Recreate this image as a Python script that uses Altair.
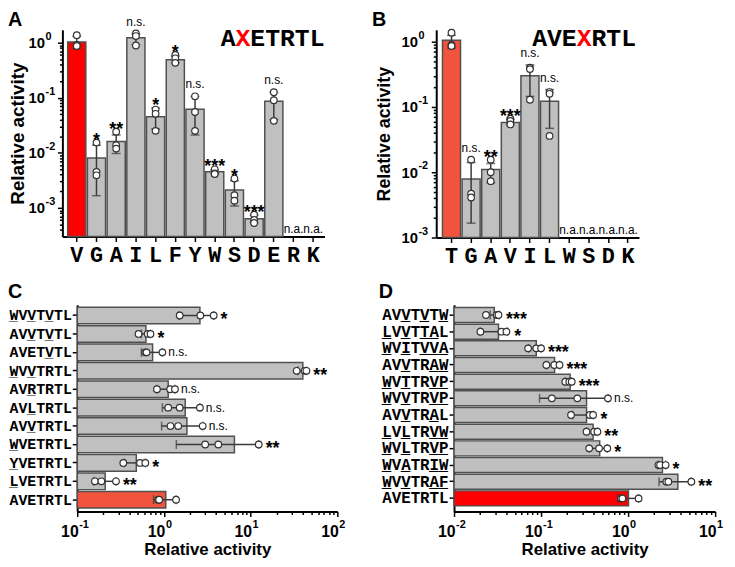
import math
import altair as alt
import pandas as pd

# ---------------- Panel A : AXETRTL (log y) ----------------
A_cats = ["V", "G", "A", "I", "L", "F", "Y", "W", "S", "D", "E", "R", "K"]
A_mean = [1.03, 0.0080, 0.016, 1.23, 0.045, 0.49, 0.062, 0.0045, 0.0021, 0.00063, 0.086, None, None]
A_lo = [0.78, 0.00166, 0.0097, 0.92, 0.027, 0.43, 0.021, 0.0042, 0.00108, 0.00054, 0.040, None, None]
A_hi = [1.30, 0.0137, 0.021, 1.45, 0.065, 0.57, 0.105, 0.0049, 0.0031, 0.00073, 0.125, None, None]
A_rep1 = [1.37, 0.0153, 0.0242, 1.47, 0.061, 0.60, 0.106, 0.0050, 0.0034, 0.00075, 0.126, None, None]
A_rep2 = [0.91, 0.0045, 0.0137, 1.32, 0.051, 0.52, 0.055, 0.0042, 0.0017, 0.00060, 0.090, None, None]
A_rep3 = [0.87, 0.0039, 0.0119, 0.89, 0.025, 0.43, 0.025, 0.0041, 0.00135, 0.00053, 0.038, None, None]
A_sig = ["", "*", "**", "n.s.", "*", "*", "n.s.", "***", "*", "***", "n.s.", "n.a.", "n.a."]

# ---------------- Panel B : AVEXRTL (log y) ----------------
B_cats = ["T", "G", "A", "V", "I", "L", "W", "S", "D", "K"]
B_mean = [1.05, 0.0079, 0.011, 0.058, 0.30, 0.122, None, None, None, None]
B_lo = [0.80, 0.00166, 0.0069, 0.054, 0.145, 0.047, None, None, None, None]
B_hi = [1.25, 0.0141, 0.0136, 0.064, 0.44, 0.185, None, None, None, None]
B_rep1 = [1.37, 0.0156, 0.0156, 0.066, 0.40, 0.169, None, None, None, None]
B_rep2 = [0.89, 0.0047, 0.0100, 0.061, 0.38, 0.159, None, None, None, None]
B_rep3 = [0.86, 0.0041, 0.0073, 0.054, 0.129, 0.036, None, None, None, None]
B_sig = ["", "n.s.", "**", "***", "n.s.", "n.s.", "n.a.", "n.a.", "n.a.", "n.a."]

# ---------------- Panel C (log x, horizontal) ----------------
C_cats = ["WVVTVTL", "AVVTVTL", "AVETVTL", "WVVTRTL", "AVRTRTL", "AVLTRTL",
          "AVVTRTL", "WVETRTL", "YVETRTL", "LVETRTL", "AVETRTL"]
C_mean = [2.6, 0.62, 0.74, 40.0, 1.12, 1.76, 1.84, 6.5, 0.48, 0.21, 1.05]
C_lo = [1.5, 0.55, 0.55, 35.0, 0.83, 0.96, 0.94, 1.39, 0.35, 0.155, 0.76]
C_hi = [3.75, 0.70, 0.96, 44.0, 1.34, 2.6, 2.8, 12.4, 0.61, 0.28, 1.38]
C_rep1 = [1.52, 0.51, 0.61, 34.0, 0.83, 1.12, 1.19, 2.99, 0.34, 0.16, 0.86]
C_rep2 = [2.63, 0.65, 0.63, 42.0, 1.18, 1.52, 1.46, 4.24, 0.53, 0.19, 0.88]
C_rep3 = [3.75, 0.70, 0.96, 44.0, 1.34, 2.6, 2.8, 12.4, 0.61, 0.28, 1.38]
C_sig = ["*", "*", "n.s.", "**", "n.s.", "n.s.", "n.s.", "**", "*", "**", ""]

# ---------------- Panel D (log x, horizontal) ----------------
D_cats = ["AVVTVTW", "LVVTTAL", "WVITVVA", "AVVTRAW", "WVTTRVP", "WVVTRVP",
          "AVVTRAL", "LVLTRVW", "WVLTRVP", "WVATRIW", "WVVTRAF", "AVETRTL"]
D_mean = [0.029, 0.0324, 0.088, 0.143, 0.216, 0.333, 0.333, 0.396, 0.472, 2.48, 3.73, 1.01]
D_lo = [0.026, 0.020, 0.072, 0.115, 0.19, 0.096, 0.23, 0.333, 0.357, 2.23, 2.27, 0.76]
D_hi = [0.033, 0.041, 0.100, 0.163, 0.225, 0.59, 0.40, 0.444, 0.577, 2.7, 5.3, 1.32]
D_rep1 = [0.0233, 0.0201, 0.071, 0.115, 0.19, 0.133, 0.221, 0.333, 0.357, 2.23, 2.75, 0.83]
D_rep2 = [0.031, 0.035, 0.088, 0.142, 0.211, 0.261, 0.363, 0.407, 0.464, 2.33, 2.9, 0.86]
D_rep3 = [0.0324, 0.040, 0.100, 0.163, 0.225, 0.587, 0.396, 0.444, 0.577, 2.7, 5.33, 1.32]
D_sig = ["***", "*", "***", "***", "***", "n.s.", "*", "**", "*", "*", "**", ""]

PARENT = "AVETRTL"

# ---------------- layout helpers ----------------
W, H = 727, 551


def X(p):
    return p - 8


def Y(p):
    return p - 8


SANS = "Liberation Sans, Arial, sans-serif"
MONO = "Liberation Mono, Courier New, DejaVu Sans Mono, monospace"
GREY = "#C0C0C0"
EDGE = "#505050"
ERRC = "#3A3A3A"
RED = "#FF0000"
TOMATO = "#F2533D"
MAJOR = "abs(log(datum.value)/LN10 - round(log(datum.value)/LN10)) < 0.000001"
ZW = "\u200b"      # zero-width anchor so that padding blanks are not trimmed
NB = "\u00a0"      # blank of one monospace cell


def log_values(lo, hi):
    out = []
    e = math.floor(math.log10(lo) + 1e-9)
    while float(f"1e{e}") <= hi * 1.0001:
        for k in range(1, 10):
            v = float(f"{k}e{e}")
            if lo * 0.9999 <= v <= hi * 1.0001:
                out.append(v)
        e += 1
    return out


def majors(lo, hi):
    rows = []
    for e in range(math.ceil(math.log10(lo) - 1e-9), math.floor(math.log10(hi) + 1e-9) + 1):
        rows.append({"v": float(f"1e{e}"), "exp": str(e)})
    return pd.DataFrame(rows)


def log_axis(orient, offset, dom, title, lsize, lpad, tsize, tpad, align=None, loff=0):
    kw = {}
    if align:
        kw["labelAlign"] = align
    return alt.Axis(
        orient=orient, offset=offset, values=log_values(*dom),
        labelExpr=f"({MAJOR}) ? '10' : ''",
        tickSize={"condition": {"test": MAJOR, "value": 5}, "value": 3},
        tickWidth=1.5, tickColor="black", domainColor="black", domainWidth=2,
        labelFont=SANS, labelFontWeight="bold", labelFontSize=lsize, labelColor="black",
        labelPadding=lpad, labelOffset=loff, labelFlush=False, labelOverlap=False, grid=False,
        title=title, titleFont=SANS, titleFontSize=tsize, titleFontWeight="bold",
        titleColor="black", titlePadding=tpad, **kw)


def band_axis(orient, offset, size, pad):
    return alt.Axis(
        orient=orient, offset=offset, labelAngle=0, tickSize=5, tickWidth=1.5,
        tickColor="black", domainColor="black", domainWidth=2, labelFont=MONO,
        labelFontSize=size, labelFontWeight="bold", labelColor="black",
        labelPadding=pad, title=None, grid=False)


def frames(cats, mean, lo, hi, reps, sig):
    rows, pts, na = [], [], []
    for i, c in enumerate(cats):
        if mean[i] is None:
            na.append({"cat": c, "sig": sig[i]})
            continue
        vals = [r[i] for r in reps]
        top = max([hi[i]] + vals)
        ul = ZW + "".join("_" if a != b else NB for a, b in zip(c, PARENT)) + ZW
        rows.append({"cat": c, "mean": mean[i], "lo": lo[i], "hi": hi[i],
                     "top": top, "sig": sig[i], "ul": ul})
        for v in vals:
            pts.append({"cat": c, "value": v})
    return pd.DataFrame(rows), pd.DataFrame(pts), pd.DataFrame(na)


def vertical_panel(cats, mean, lo, hi, reps, sig, ref, ref_color, xr, band, yr, ydom,
                   tsize, tpad, lpad):
    bars, pts, na = frames(cats, mean, lo, hi, reps, sig)
    xs = alt.Scale(domain=cats, range=[X(xr[0]), X(xr[1])], paddingInner=band[0],
                   paddingOuter=band[1], align=band[2])
    xe = alt.X("cat:N", scale=xs, axis=band_axis("bottom", Y(yr[0]) - H, 22, 3))
    ys = alt.Scale(type="log", domain=ydom, range=[Y(yr[0]), Y(yr[1])], nice=False)
    ya = log_axis("left", -X(xr[0]), ydom, "Relative activity", 15, lpad, tsize, tpad)

    def ye(f):
        return alt.Y(f + ":Q", scale=ys, axis=ya)

    layers = [
        alt.Chart(bars).mark_bar(stroke=EDGE, strokeWidth=1.5).encode(
            x=xe, y=ye("mean"), y2=alt.datum(ydom[0]),
            color=alt.condition(f"datum.cat == '{ref}'", alt.value(ref_color), alt.value(GREY))),
        alt.Chart(bars).mark_rule(color=ERRC, strokeWidth=1.5).encode(x=xe, y=ye("lo"), y2="hi:Q"),
        alt.Chart(bars).mark_tick(color=ERRC, thickness=1.5, size=9).encode(x=xe, y=ye("lo")),
        alt.Chart(bars).mark_tick(color=ERRC, thickness=1.5, size=9).encode(x=xe, y=ye("hi")),
        alt.Chart(pts).mark_circle(fill="white", stroke="#333333", strokeWidth=1.2,
                                   size=45, opacity=1).encode(x=xe, y=ye("value")),
        alt.Chart(bars).transform_filter("indexof(datum.sig, '*') >= 0").mark_text(
            font=SANS, fontSize=18, fontWeight="bold", baseline="alphabetic", dy=3,
            color="black").encode(x=xe, y=ye("top"), text="sig:N"),
        alt.Chart(bars).transform_filter("datum.sig == 'n.s.'").mark_text(
            font=SANS, fontSize=12, baseline="alphabetic", dy=-8, color="black").encode(
            x=xe, y=ye("top"), text="sig:N"),
        # exponents of the decade labels
        alt.Chart(majors(*ydom)).mark_text(
            font=SANS, fontSize=11, fontWeight="bold", align="left", baseline="middle",
            dy=-6, color="black").encode(
            y=ye("v"), x=alt.value(X(xr[0]) - 5 - lpad + 1), text="exp:N"),
    ]
    if len(na):
        na["base"] = ydom[0]
        layers.append(alt.Chart(na).mark_text(
            font=SANS, fontSize=12, baseline="alphabetic", dy=-4, color="black").encode(
            x=xe, y=ye("base"), text="sig:N"))
    return alt.layer(*layers)


def horizontal_panel(cats, mean, lo, hi, reps, sig, ref, ref_color, xr, xdom, yr, band, lsize):
    bars, pts, _ = frames(cats, mean, lo, hi, reps, sig)
    ys = alt.Scale(domain=cats, range=[Y(yr[0]), Y(yr[1])], paddingInner=band[0],
                   paddingOuter=band[1], align=band[2])
    ye = alt.Y("cat:N", scale=ys, axis=band_axis("left", -X(xr[0]), lsize, 1))
    xs = alt.Scale(type="log", domain=xdom, range=[X(xr[0]), X(xr[1])], nice=False)
    lpad = 7
    xa = log_axis("bottom", Y(yr[1]) - H, xdom, "Relative activity", 16, lpad, 17, 3,
                  align="right", loff=1)

    def xe(f):
        return alt.X(f + ":Q", scale=xs, axis=xa)

    return alt.layer(
        alt.Chart(bars).mark_bar(stroke=EDGE, strokeWidth=1.5).encode(
            y=ye, x=xe("mean"), x2=alt.datum(xdom[0]),
            color=alt.condition(f"datum.cat == '{ref}'", alt.value(ref_color), alt.value(GREY))),
        alt.Chart(bars).mark_rule(color=ERRC, strokeWidth=1.5).encode(y=ye, x=xe("lo"), x2="hi:Q"),
        alt.Chart(bars).mark_tick(color=ERRC, thickness=1.5, size=9).encode(y=ye, x=xe("lo")),
        alt.Chart(bars).mark_tick(color=ERRC, thickness=1.5, size=9).encode(y=ye, x=xe("hi")),
        alt.Chart(pts).mark_circle(fill="white", stroke="#333333", strokeWidth=1.2,
                                   size=45, opacity=1).encode(y=ye, x=xe("value")),
        alt.Chart(bars).transform_filter("indexof(datum.sig, '*') >= 0").mark_text(
            font=SANS, fontSize=18, fontWeight="bold", align="left", baseline="middle",
            dx=7, dy=5, color="black").encode(y=ye, x=xe("top"), text="sig:N"),
        alt.Chart(bars).transform_filter("datum.sig == 'n.s.'").mark_text(
            font=SANS, fontSize=12, align="left", baseline="middle", dx=6,
            color="black").encode(y=ye, x=xe("top"), text="sig:N"),
        # underline marks under the substituted residues
        alt.Chart(bars).mark_text(
            font=MONO, fontSize=lsize, fontWeight="bold", align="right", baseline="middle",
            color="black").encode(y=ye, x=alt.value(X(xr[0]) - 6), text="ul:N"),
        # exponents of the decade labels
        alt.Chart(majors(*xdom)).mark_text(
            font=SANS, fontSize=11, fontWeight="bold", align="left", baseline="top",
            dx=2, color="black").encode(
            x=xe("v"), y=alt.value(Y(yr[1]) + 5 + lpad - 4), text="exp:N"),
    )


panelA = vertical_panel(A_cats, A_mean, A_lo, A_hi, [A_rep1, A_rep2, A_rep3], A_sig,
                        "V", RED, (63, 328), (0.08, 0.19, 0.71), (236, 27), [3.01e-4, 1.713],
                        19, 1, 13)
panelB = vertical_panel(B_cats, B_mean, B_lo, B_hi, [B_rep1, B_rep2, B_rep3], B_sig,
                        "T", TOMATO, (441, 646), (0.08, 0.21, 0.76), (237, 27), [1e-3, 1.52],
                        18, 8, 14)
panelC = horizontal_panel(C_cats, C_mean, C_lo, C_hi, [C_rep1, C_rep2, C_rep3], C_sig,
                          "AVETRTL", TOMATO, (78, 341), [0.1, 100], (305, 514),
                          (0.1, 0.16, 0.42), 15)
panelD = horizontal_panel(D_cats, D_mean, D_lo, D_hi, [D_rep1, D_rep2, D_rep3], D_sig,
                          "AVETRTL", RED, (459, 723), [0.01, 10], (305, 514),
                          (0.1, 0.25, 0.33), 16)

# ---------------- panel letters and motif headers ----------------
letters = pd.DataFrame({"t": ["A", "B", "C", "D"],
                        "px": [0, X(376), 0, X(383)],
                        "py": [15, 15, Y(298), Y(298)]})
letter_layers = [
    alt.Chart(letters.iloc[[i]]).mark_text(
        font=SANS, fontSize=20, fontWeight="bold", align="left", baseline="alphabetic",
        color="black").encode(text="t:N", x=alt.value(float(letters.px[i])),
                              y=alt.value(float(letters.py[i])))
    for i in range(4)
]

head_black = ["A" + NB + "ETRTL", "AVE" + NB + "RTL"]
head_red = [ZW + NB + "X" + ZW, ZW + NB * 3 + "X" + ZW]
head_x = [X(223), X(538)]
head_layers = []
for i in range(2):
    for txt, col in ((head_black[i], "black"), (head_red[i], RED)):
        head_layers.append(
            alt.Chart(pd.DataFrame({"t": [txt]})).mark_text(
                font=MONO, fontSize=25, fontWeight="bold", align="left",
                baseline="alphabetic", color=col).encode(
                text="t:N", x=alt.value(head_x[i]), y=alt.value(Y(43))))

chart = alt.layer(panelA, panelB, panelC, panelD, *letter_layers, *head_layers).resolve_scale(
    x="independent", y="independent"
).properties(width=W, height=H, padding=0, autosize="none", background="white"
).configure_view(stroke=None)

chart.save("out.html", embed_options={"renderer": "svg", "actions": False})
